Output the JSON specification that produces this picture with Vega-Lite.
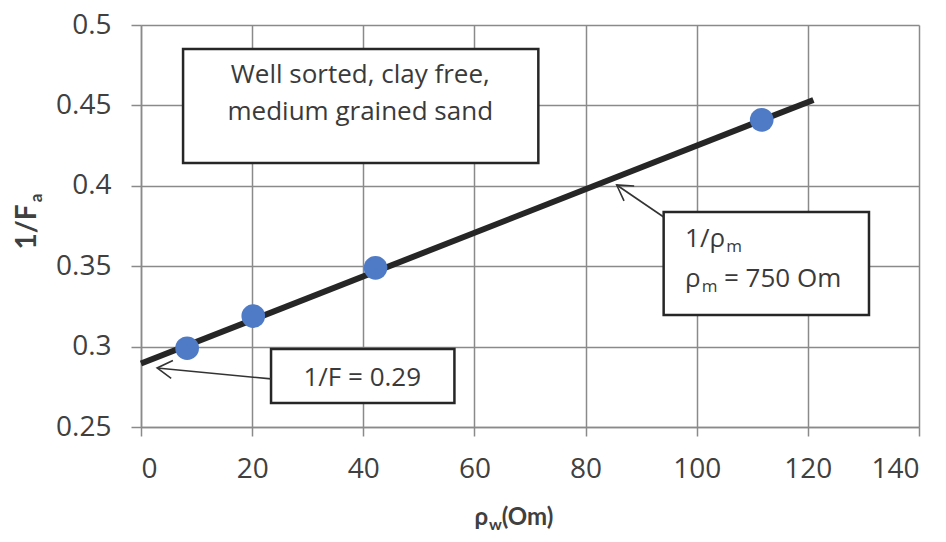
{
  "$schema": "https://vega.github.io/schema/vega-lite/v6.json",
  "width": 778,
  "height": 402,
  "autosize": {"type": "none"},
  "padding": {"left": 141, "top": 25, "right": 27, "bottom": 115},
  "background": "white",
  "config": {
    "font": "Open Sans",
    "view": {"stroke": null},
    "axis": {
      "gridColor": "#8a8a8a",
      "gridWidth": 1.5,
      "gridOpacity": 1,
      "domainColor": "#8a8a8a",
      "domainWidth": 1.5,
      "tickColor": "#8a8a8a",
      "tickWidth": 1.5,
      "labelFont": "Open Sans",
      "labelFontSize": 28,
      "labelColor": "#404040",
      "title": null
    }
  },
  "datasets": {
    "points": [
      {"rho_w": 8.3, "inv_Fa": 0.299},
      {"rho_w": 20.2, "inv_Fa": 0.319},
      {"rho_w": 42.2, "inv_Fa": 0.349},
      {"rho_w": 111.7, "inv_Fa": 0.441}
    ],
    "fit": [
      {"rho_w": 0, "inv_Fa": 0.2895},
      {"rho_w": 121, "inv_Fa": 0.4534}
    ],
    "boxes": [
      {"name": "sand", "x": 7.57, "x2": 71.5, "y": 0.4851, "y2": 0.4142},
      {"name": "F", "x": 23.4, "x2": 56.4, "y": 0.2985, "y2": 0.2649},
      {"name": "rm", "x": 94.05, "x2": 131.0, "y": 0.3837, "y2": 0.3197}
    ],
    "arrows": [
      {"name": "F", "x": 23.4, "y": 0.2799, "x2": 2.9, "y2": 0.2867},
      {"name": "rm", "x": 94.05, "y": 0.3806, "x2": 85.6, "y2": 0.4005}
    ],
    "boxtext": [
      {"x": 39.46, "y": 0.4639, "text": "Well sorted, clay free,"},
      {"x": 39.46, "y": 0.4409, "text": "medium grained sand"},
      {"x": 39.82, "y": 0.2755, "text": "1/F = 0.29"}
    ],
    "lefttext": [
      {"x": 97.9, "y": 0.3619, "text": "1/ρ"},
      {"x": 97.9, "y": 0.3371, "text": "ρ"},
      {"x": 104.9, "y": 0.3371, "text": "= 750  Om"}
    ],
    "subtext": [
      {"x": 105.3, "y": 0.3588, "text": "m"},
      {"x": 100.9, "y": 0.334, "text": "m"}
    ],
    "xtitle": [
      {"x": 60.0, "y": 0.18905, "text": "ρ"},
      {"x": 64.9, "y": 0.18905, "text": "(Om)"}
    ],
    "xtitlesub": [
      {"x": 62.6, "y": 0.186, "text": "w"}
    ],
    "ytitle": [
      {"x": -18.92, "y": 0.3744, "text": "1/F"}
    ],
    "ytitlesub": [
      {"x": -17.9, "y": 0.3925, "text": "a"}
    ]
  },
  "encoding": {
    "x": {"type": "quantitative"},
    "y": {"type": "quantitative"}
  },
  "layer": [
    {
      "data": {"name": "fit"},
      "mark": {"type": "line", "color": "#262626", "strokeWidth": 6},
      "encoding": {
        "x": {"field": "rho_w", "type": "quantitative",
          "scale": {"domain": [0, 140], "nice": false},
          "axis": {"values": [0, 20, 40, 60, 80, 100, 120, 140], "tickSize": 9, "labelPadding": 19, "grid": true}},
        "y": {"field": "inv_Fa", "type": "quantitative",
          "scale": {"domain": [0.25, 0.5], "nice": false, "zero": false},
          "axis": {"values": [0.25, 0.3, 0.35, 0.4, 0.45, 0.5], "format": ".2~f", "tickSize": 10, "labelPadding": 20, "grid": true}}
      }
    },
    {
      "data": {"name": "points"},
      "mark": {"type": "point", "filled": true, "shape": "circle", "size": 560, "color": "#4f7bc6", "opacity": 1},
      "encoding": {
        "x": {"field": "rho_w", "type": "quantitative"},
        "y": {"field": "inv_Fa", "type": "quantitative"}
      }
    },
    {
      "data": {"name": "boxes"},
      "mark": {"type": "rect", "fill": "white", "stroke": "#262626", "strokeWidth": 2.5},
      "encoding": {
        "x": {"field": "x", "type": "quantitative"},
        "x2": {"field": "x2"},
        "y": {"field": "y", "type": "quantitative"},
        "y2": {"field": "y2"}
      }
    },
    {
      "data": {"name": "arrows"},
      "mark": {"type": "rule", "color": "#333333", "strokeWidth": 1.6},
      "encoding": {
        "x": {"field": "x", "type": "quantitative"},
        "x2": {"field": "x2"},
        "y": {"field": "y", "type": "quantitative"},
        "y2": {"field": "y2"}
      }
    },
    {
      "data": {"name": "arrows"},
      "transform": [{"filter": "datum.name === 'F'"}],
      "mark": {"type": "point", "shape": "M -1 -0.6 L 0 0 L -1 0.6", "filled": false, "size": 900, "angle": 185.5, "stroke": "#333333", "strokeWidth": 1.6, "opacity": 1},
      "encoding": {
        "x": {"field": "x2", "type": "quantitative"},
        "y": {"field": "y2", "type": "quantitative"}
      }
    },
    {
      "data": {"name": "arrows"},
      "transform": [{"filter": "datum.name === 'rm'"}],
      "mark": {"type": "point", "shape": "M -1 -0.6 L 0 0 L -1 0.6", "filled": false, "size": 900, "angle": 214.25, "stroke": "#333333", "strokeWidth": 1.6, "opacity": 1},
      "encoding": {
        "x": {"field": "x2", "type": "quantitative"},
        "y": {"field": "y2", "type": "quantitative"}
      }
    },
    {
      "data": {"name": "boxtext"},
      "mark": {"type": "text", "font": "Open Sans", "fontSize": 26, "color": "#3a3a3a", "align": "center", "baseline": "alphabetic"},
      "encoding": {
        "x": {"field": "x", "type": "quantitative"},
        "y": {"field": "y", "type": "quantitative"},
        "text": {"field": "text"}
      }
    },
    {
      "data": {"name": "lefttext"},
      "mark": {"type": "text", "font": "Open Sans", "fontSize": 26, "color": "#3a3a3a", "align": "left", "baseline": "alphabetic"},
      "encoding": {
        "x": {"field": "x", "type": "quantitative"},
        "y": {"field": "y", "type": "quantitative"},
        "text": {"field": "text"}
      }
    },
    {
      "data": {"name": "subtext"},
      "mark": {"type": "text", "font": "Open Sans", "fontSize": 17, "color": "#3a3a3a", "align": "left", "baseline": "alphabetic"},
      "encoding": {
        "x": {"field": "x", "type": "quantitative"},
        "y": {"field": "y", "type": "quantitative"},
        "text": {"field": "text"}
      }
    },
    {
      "data": {"name": "xtitle"},
      "mark": {"type": "text", "font": "Lato", "fontSize": 24, "fontWeight": "bold", "color": "#404040", "align": "left", "baseline": "alphabetic"},
      "encoding": {
        "x": {"field": "x", "type": "quantitative"},
        "y": {"field": "y", "type": "quantitative"},
        "text": {"field": "text"}
      }
    },
    {
      "data": {"name": "xtitlesub"},
      "mark": {"type": "text", "font": "Lato", "fontSize": 16, "fontWeight": "bold", "color": "#404040", "align": "left", "baseline": "alphabetic"},
      "encoding": {
        "x": {"field": "x", "type": "quantitative"},
        "y": {"field": "y", "type": "quantitative"},
        "text": {"field": "text"}
      }
    },
    {
      "data": {"name": "ytitle"},
      "mark": {"type": "text", "font": "Lato", "fontSize": 28, "fontWeight": "bold", "color": "#404040", "align": "center", "baseline": "alphabetic", "angle": 270},
      "encoding": {
        "x": {"field": "x", "type": "quantitative"},
        "y": {"field": "y", "type": "quantitative"},
        "text": {"field": "text"}
      }
    },
    {
      "data": {"name": "ytitlesub"},
      "mark": {"type": "text", "font": "Lato", "fontSize": 17, "fontWeight": "bold", "color": "#404040", "align": "center", "baseline": "alphabetic", "angle": 270},
      "encoding": {
        "x": {"field": "x", "type": "quantitative"},
        "y": {"field": "y", "type": "quantitative"},
        "text": {"field": "text"}
      }
    }
  ]
}
